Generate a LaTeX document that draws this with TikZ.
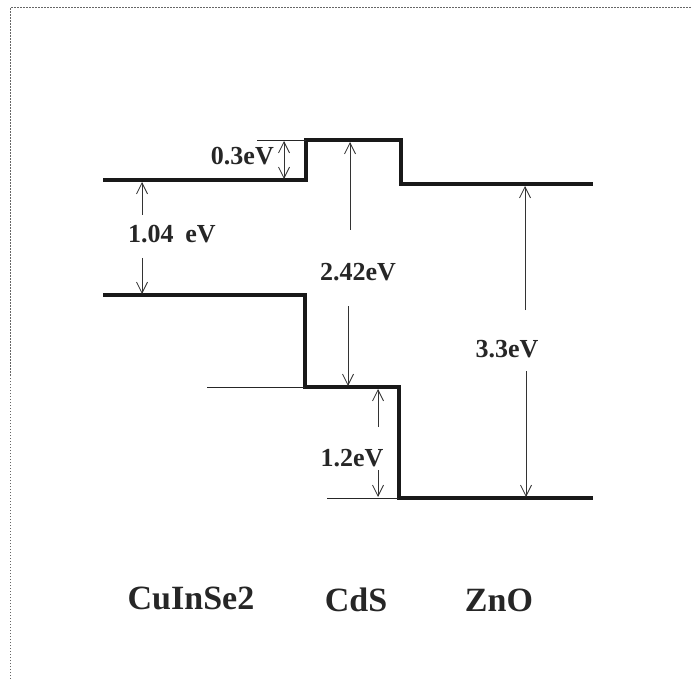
\documentclass[tikz,border=0pt]{standalone}
\usepackage{fontspec}
\setmainfont{Liberation Serif}
\usetikzlibrary{arrows.meta}
\begin{document}
\begin{tikzpicture}[x=1pt,y=-1pt,
  band/.style={line width=3.8pt,line join=miter,color=black!90},
  thinline/.style={line width=0.9pt,color=black!85},
  arr/.style={line width=0.8pt,color=black!80,-{Straight Barb[length=11pt,width=11pt,line width=0.8pt]}},
  dbl/.style={line width=0.8pt,color=black!80,{Straight Barb[length=11pt,width=11pt,line width=0.8pt]}-{Straight Barb[length=11pt,width=11pt,line width=0.8pt]}},
  elab/.style={font=\fontsize{26}{30}\selectfont\bfseries,text=black!85,inner sep=0pt},
  mlab/.style={font=\fontsize{34}{38}\selectfont\bfseries,text=black!85,inner sep=0pt},
  frame/.style={line width=1pt,color=black!60,dash pattern=on 1.5pt off 1.5pt}]
\useasboundingbox (0,0) rectangle (691,679);
\draw[frame] (10,679) -- (10,8) -- (691,8);
% band edges
\draw[band] (103,180) -- (306,180) -- (306,140) -- (401,140) -- (401,184) -- (593,184);
\draw[band] (103,295) -- (305,295) -- (305,387) -- (399,387) -- (399,498) -- (593,498);
% thin reference lines
\coordinate (r1a) at (257,140); \coordinate (r1b) at (306,140);
\coordinate (r2a) at (207,387); \coordinate (r2b) at (305,387);
\coordinate (r3a) at (327,498); \coordinate (r3b) at (399,498);
\draw[thinline] (r1a) -- (r1b);
\draw[thinline] (r2a) -- (r2b);
\draw[thinline] (r3a) -- (r3b);
% labels
\node[elab,anchor=east] (l03) at (274,156) {0.3eV};
\node[elab] (l104) at (172,234) {1.04\hspace{0.45em}eV};
\node[elab] (l242) at (358,272) {2.42eV};
\node[elab] (l12) at (352,458) {1.2eV};
\node[elab] (l33) at (507,349) {3.3eV};
% arrows
\coordinate (a03t) at (284,141); \coordinate (a03b) at (284,179);
\draw[dbl] (a03b) -- (a03t);
\coordinate (a104t) at (142,182); \coordinate (a104u) at (142,215);
\coordinate (a104l) at (142,258); \coordinate (a104b) at (142,294);
\draw[arr] (a104u) -- (a104t);
\draw[arr] (a104l) -- (a104b);
\coordinate (a242t) at (350,142); \coordinate (a242u) at (350,230);
\coordinate (a242l) at (348,306); \coordinate (a242b) at (348,386);
\draw[arr] (a242u) -- (a242t);
\draw[arr] (a242l) -- (a242b);
\coordinate (a12t) at (378,389); \coordinate (a12u) at (378,427);
\coordinate (a12l) at (378,470); \coordinate (a12b) at (378,497);
\draw[arr] (a12u) -- (a12t);
\draw[arr] (a12l) -- (a12b);
\coordinate (a33t) at (525,186); \coordinate (a33u) at (525,310);
\coordinate (a33l) at (526,371); \coordinate (a33b) at (526,497);
\draw[arr] (a33u) -- (a33t);
\draw[arr] (a33l) -- (a33b);
% material labels
\node[mlab] (m1) at (191,598) {CuInSe2};
\node[mlab] (m2) at (356,600) {CdS};
\node[mlab] (m3) at (499,600) {ZnO};
\end{tikzpicture}
\end{document}
